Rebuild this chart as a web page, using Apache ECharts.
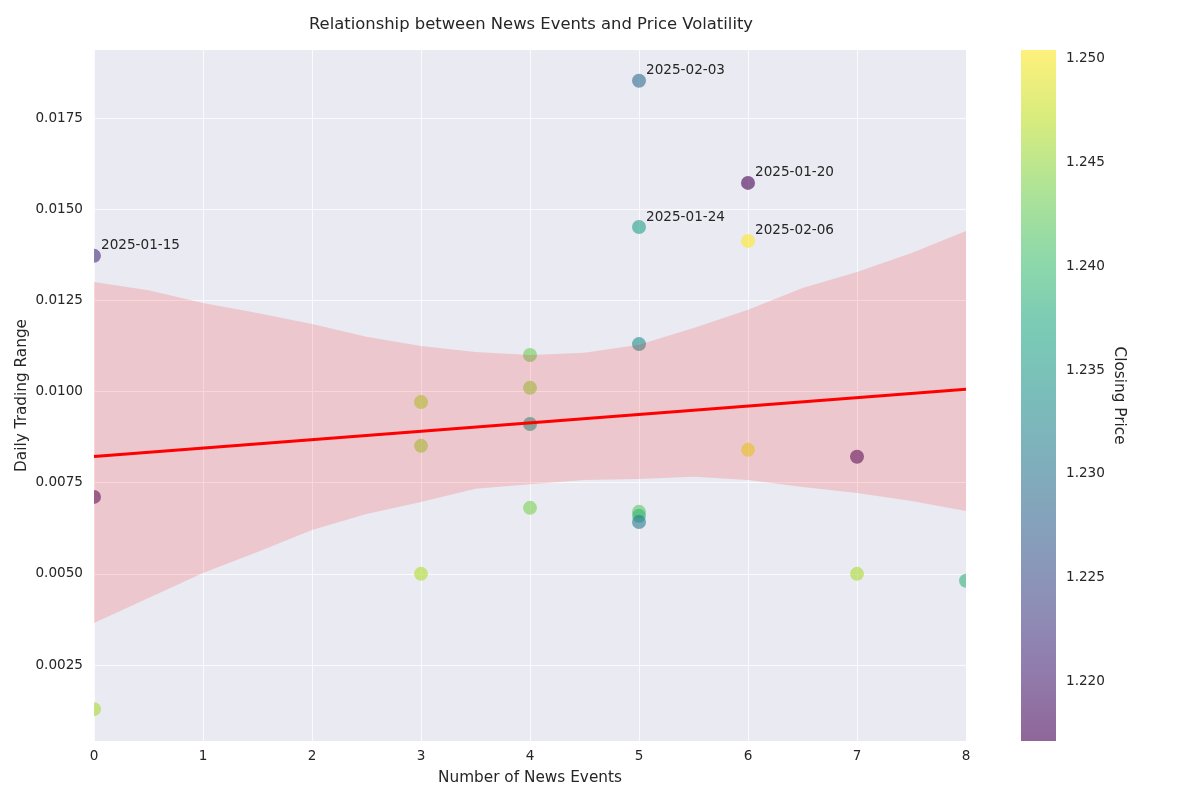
<!DOCTYPE html>
<html><head><meta charset="utf-8">
<script src="https://cdn.jsdelivr.net/npm/echarts@6/dist/echarts.min.js"></script>
<style>html,body{margin:0;padding:0;background:#fff}#c{width:1200px;height:800px}</style>
</head><body><div id="c"></div>
<script>
// ---- data ----
const newsEvents   = [0, 0, 0, 3, 3, 3, 4, 4, 4, 4, 5, 5, 5, 5, 5, 5, 6, 6, 6, 7, 7, 8];
const tradingRange = [0.01372, 0.00711, 0.00129, 0.00971, 0.00851, 0.00500, 0.01100, 0.01010, 0.00911, 0.00681,
                      0.01852, 0.01451, 0.01130, 0.00670, 0.00659, 0.00642, 0.01572, 0.01413, 0.00840, 0.00821, 0.00500, 0.00481];
const closingPrice = [1.2215, 1.2195, 1.2460, 1.2458, 1.2452, 1.2465, 1.2430, 1.2448, 1.2355, 1.2438,
                      1.2290, 1.2360, 1.2335, 1.2420, 1.2390, 1.2310, 1.21711, 1.25043, 1.2490, 1.2190, 1.2462, 1.2388];
const dateLabels   = ['2025-01-15', '', '', '', '', '', '', '', '', '',
                      '2025-02-03', '2025-01-24', '', '', '', '', '2025-01-20', '2025-02-06', '', '', '', ''];
// confidence band of the regression
const bandX     = [0, 0.5, 1, 1.5, 2, 2.5, 3, 3.5, 4, 4.5, 5, 5.5, 6, 6.5, 7, 7.5, 8];
const bandUpper = [0.01300, 0.01278, 0.01243, 0.01215, 0.01185, 0.01150, 0.01125, 0.01108, 0.01100, 0.01106,
                   0.01128, 0.01174, 0.01224, 0.01284, 0.01328, 0.01380, 0.01440];
const bandLower = [0.00365, 0.00434, 0.00502, 0.00560, 0.00620, 0.00664, 0.00697, 0.00733, 0.00746, 0.00757,
                   0.00760, 0.00766, 0.00757, 0.00738, 0.00722, 0.00700, 0.00672];
const xTicks     = [0, 1, 2, 3, 4, 5, 6, 7, 8];
const yTicks     = [0.0025, 0.0050, 0.0075, 0.0100, 0.0125, 0.0150, 0.0175];
const colorTicks = [1.220, 1.225, 1.230, 1.235, 1.240, 1.245, 1.250];
const priceMin = 1.21711, priceMax = 1.25043;

const viridis = ['#440154', '#482475', '#414487', '#355f8d', '#2a788e', '#21918c',
                 '#22a884', '#44bf70', '#7ad151', '#bddf26', '#fde725'];

// least-squares regression from the data
const n = newsEvents.length;
const mx = newsEvents.reduce((a, b) => a + b, 0) / n;
const my = tradingRange.reduce((a, b) => a + b, 0) / n;
let sxy = 0, sxx = 0;
for (let i = 0; i < n; i++) { sxy += (newsEvents[i] - mx) * (tradingRange[i] - my); sxx += (newsEvents[i] - mx) ** 2; }
const slope = sxy / sxx, intercept = my - slope * mx;
const regLine = [[xTicks[0], intercept], [xTicks[xTicks.length - 1], intercept + slope * xTicks[xTicks.length - 1]]];

const FONT = 'DejaVu Sans';
const TXT = '#262626';
const GRIDLINE = 'rgba(255,255,255,0.8)';
const chart = echarts.init(document.getElementById('c'), null, { renderer: 'canvas' });

chart.setOption({
  animation: false,
  backgroundColor: '#ffffff',
  title: {
    text: 'Relationship between News Events and Price Volatility',
    left: 526, top: 12, textAlign: 'center',
    textStyle: { fontFamily: FONT, fontSize: 16.4, fontWeight: 'normal', color: TXT }
  },
  grid: [
    { left: 94, top: 50, width: 872, height: 691, show: true, backgroundColor: '#EAEAF2', borderWidth: 0 },
    { left: 1021, top: 50, width: 35, height: 691, show: false }
  ],
  xAxis: [
    {
      type: 'value', gridIndex: 0, min: 0, max: 8, interval: 1,
      name: 'Number of News Events', nameLocation: 'middle', nameGap: 30, nameMoveOverlap: false,
      nameTextStyle: { fontFamily: FONT, fontSize: 15.3, color: TXT },
      axisLine: { show: false }, axisTick: { show: false },
      axisLabel: { fontFamily: FONT, fontSize: 13.6, color: TXT, margin: 8 },
      splitLine: { show: true, lineStyle: { color: GRIDLINE, width: 1 } }
    },
    { type: 'value', gridIndex: 1, min: 0, max: 1, show: false }
  ],
  yAxis: [
    {
      type: 'value', gridIndex: 0, min: 0.000416, max: 0.019365,
      name: 'Daily Trading Range', nameLocation: 'middle', nameGap: 64, nameMoveOverlap: false,
      nameTextStyle: { fontFamily: FONT, fontSize: 15.3, color: TXT },
      axisLine: { show: false },
      axisTick: { show: false, customValues: yTicks },
      axisLabel: { customValues: yTicks, formatter: v => v.toFixed(4), fontFamily: FONT, fontSize: 13.6, color: TXT, margin: 11 },
      splitLine: { show: true, lineStyle: { color: GRIDLINE, width: 1 } }
    },
    {
      type: 'value', gridIndex: 1, min: priceMin, max: priceMax, position: 'right',
      name: 'Closing Price', nameLocation: 'middle', nameGap: 55, nameRotate: -90,
      nameTextStyle: { fontFamily: FONT, fontSize: 15.3, color: TXT },
      axisLine: { show: false },
      axisTick: { show: false, customValues: colorTicks },
      axisLabel: { customValues: colorTicks, formatter: v => v.toFixed(3), fontFamily: FONT, fontSize: 13.6, color: TXT, margin: 10 },
      splitLine: { show: false }
    }
  ],
  visualMap: {
    show: false, type: 'continuous', seriesIndex: 0, dimension: 2,
    min: priceMin, max: priceMax, inRange: { color: viridis }
  },
  series: [
    {
      type: 'custom', xAxisIndex: 0, yAxisIndex: 0, clip: true, z: 2,
      encode: { x: 0, y: 1 },
      data: newsEvents.map((x, i) => [x, tradingRange[i], closingPrice[i]]),
      renderItem: (params, api) => {
        const p = api.coord([api.value(0), api.value(1)]);
        return { type: 'circle', shape: { cx: p[0], cy: p[1], r: 7 }, style: { fill: api.visual('color'), opacity: 0.6 } };
      }
    },
    {
      type: 'custom', xAxisIndex: 0, yAxisIndex: 0, clip: true, z: 3, silent: true,
      data: [[bandX[0], bandLower[0]]],
      renderItem: (params, api) => {
        const pts = bandX.map((x, i) => api.coord([x, bandUpper[i]]))
          .concat(bandX.map((x, i) => api.coord([x, bandLower[i]])).reverse());
        return { type: 'polygon', shape: { points: pts }, style: { fill: 'rgba(255,0,0,0.15)' } };
      }
    },
    {
      type: 'line', xAxisIndex: 0, yAxisIndex: 0, z: 4, showSymbol: false, silent: true,
      data: regLine, lineStyle: { color: '#ff0000', width: 3 }
    },
    {
      type: 'custom', xAxisIndex: 0, yAxisIndex: 0, z: 5, silent: true,
      data: newsEvents.map((x, i) => [x, tradingRange[i]]),
      renderItem: (params, api) => {
        const t = dateLabels[params.dataIndex];
        if (!t) return null;
        const p = api.coord([api.value(0), api.value(1)]);
        return { type: 'text', x: p[0] + 7, y: p[1] - 10,
          style: { text: t, fill: TXT, font: '13.6px "' + FONT + '"', align: 'left', verticalAlign: 'middle' } };
      }
    },
    {
      type: 'custom', xAxisIndex: 1, yAxisIndex: 1, silent: true,
      data: [[0, priceMin]],
      renderItem: (params, api) => {
        const a = api.coord([0, priceMax]);
        const b = api.coord([1, priceMin]);
        const stops = viridis.slice().reverse().map((c, i, arr) => ({ offset: i / (arr.length - 1), color: c }));
        return { type: 'rect', shape: { x: a[0], y: a[1], width: b[0] - a[0], height: b[1] - a[1] },
          style: { fill: new echarts.graphic.LinearGradient(0, 0, 0, 1, stops), opacity: 0.6 } };
      }
    }
  ]
});
</script>
</body></html>
